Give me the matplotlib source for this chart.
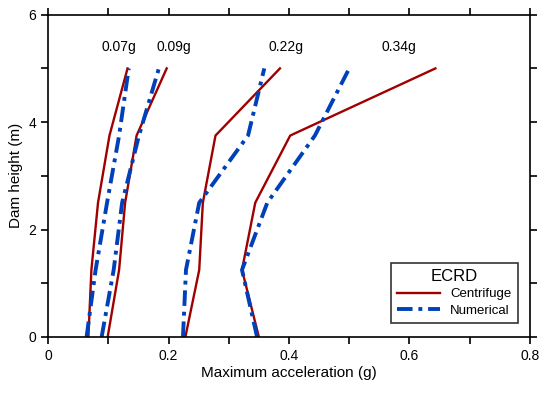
import matplotlib
matplotlib.use('Agg')
import matplotlib.pyplot as plt
from matplotlib.ticker import MultipleLocator, FuncFormatter

plt.rcParams['font.family'] = ['Liberation Sans', 'DejaVu Sans']

height = [0, 1.25, 2.5, 3.75, 5]

# centrifuge (red) and numerical (blue) per input motion
cent_007 = [0.067, 0.072, 0.083, 0.102, 0.132]
num_007 = [0.064, 0.079, 0.098, 0.118, 0.134]
cent_009 = [0.099, 0.118, 0.128, 0.147, 0.197]
num_009 = [0.089, 0.109, 0.123, 0.151, 0.184]
cent_022 = [0.228, 0.251, 0.257, 0.278, 0.385]
num_022 = [0.224, 0.229, 0.251, 0.332, 0.359]
cent_034 = [0.350, 0.322, 0.344, 0.402, 0.643]
num_034 = [0.347, 0.322, 0.364, 0.443, 0.500]

labels = ['0.07g', '0.09g', '0.22g', '0.34g']
label_x = [0.117, 0.208, 0.395, 0.583]
label_y = 5.4

red = '#a00000'
blue = '#0040b8'

fig = plt.figure(figsize=(5.5, 3.94), dpi=100)
ax = fig.add_axes([0.0873, 0.1447, 0.8763, 0.818])

cents = [cent_007, cent_009, cent_022, cent_034]
nums = [num_007, num_009, num_022, num_034]
for i in range(4):
    ax.plot(cents[i], height, color=red, lw=1.7,
            label='Centrifuge' if i == 0 else None)
    ax.plot(nums[i], height, color=blue, lw=2.8, linestyle=(0, (4, 1.5, 1, 1.5)),
            label='Numerical' if i == 0 else None)

for t, x in zip(labels, label_x):
    ax.text(x, label_y, t, ha='center', va='center', fontsize=10)

ax.set_xlim(0, 0.8)
ax.set_ylim(0, 6)
ax.xaxis.set_major_locator(MultipleLocator(0.2))
ax.xaxis.set_minor_locator(MultipleLocator(0.1))
ax.yaxis.set_major_locator(MultipleLocator(2))
ax.yaxis.set_minor_locator(MultipleLocator(1))
ax.xaxis.set_major_formatter(FuncFormatter(lambda v, p: '%g' % round(v, 2)))
ax.tick_params(which='both', direction='out', length=5, width=1.2,
               top=True, right=True, labelsize=10)
for s in ax.spines.values():
    s.set_linewidth(1.2)

ax.set_xlabel('Maximum acceleration (g)', fontsize=11, labelpad=2)
ax.set_ylabel('Dam height (m)', fontsize=11, labelpad=4)

leg = ax.legend(title='ECRD', loc='lower right', bbox_to_anchor=(0.975, 0.043),
                borderaxespad=0, fancybox=False, edgecolor='black',
                fontsize=9.5, title_fontsize=12, handlelength=3.2,
                borderpad=0.5, labelspacing=0.3)
leg.get_frame().set_linewidth(1.2)

fig.savefig('out.png', dpi=100)
